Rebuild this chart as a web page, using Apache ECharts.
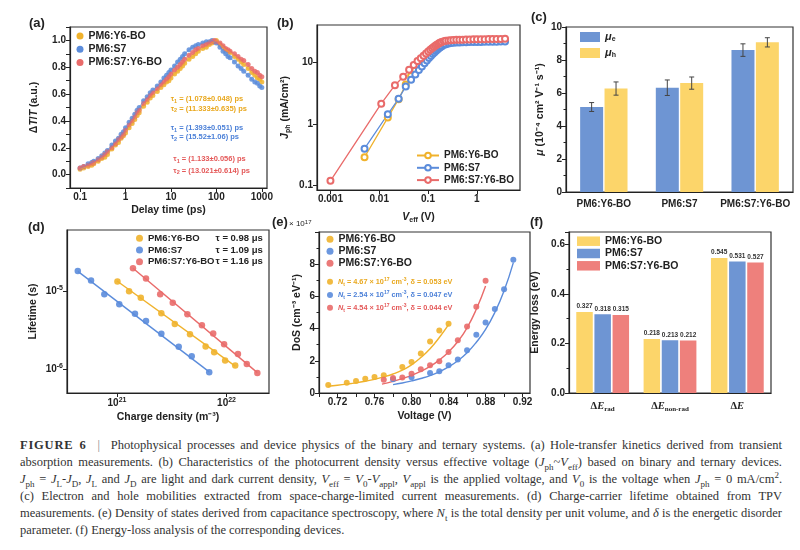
<!DOCTYPE html>
<html>
<head>
<meta charset="utf-8">
<script src="https://cdn.jsdelivr.net/npm/echarts@6/dist/echarts.min.js"></script>
<style>
  body { margin: 0; background: #fff; }
  #cnv { width: 800px; height: 430px; position: absolute; left: 0; top: 0; }
  #cap { position: absolute; left: 20px; top: 437px; width: 762px; font-family: 'Liberation Serif', 'DejaVu Serif', serif; font-size: 12.5px; color: #333; }
  #cap div { height: 17px; line-height: 17px; white-space: nowrap; text-align: justify; text-align-last: justify; }
  #cap div.last { text-align-last: left; }
  #cap sub, #cap sup { font-size: 0.72em; line-height: 0; }
  #cap b { letter-spacing: 0.8px; }
</style>
</head>
<body>
<div id="cnv"></div>
<div id="cap">
  <div><b>FIGURE 6</b>&nbsp;&nbsp;<span style="color:#888">|</span>&nbsp;&nbsp;Photophysical processes and device physics of the binary and ternary systems. (a) Hole-transfer kinetics derived from transient</div>
  <div>absorption measurements. (b) Characteristics of the photocurrent density versus effective voltage (<i>J</i><sub>ph</sub>~<i>V</i><sub>eff</sub>) based on binary and ternary devices.</div>
  <div><i>J</i><sub>ph</sub> = <i>J</i><sub>L</sub>-<i>J</i><sub>D</sub>, <i>J</i><sub>L</sub> and <i>J</i><sub>D</sub> are light and dark current density, <i>V</i><sub>eff</sub> = <i>V</i><sub>0</sub>-<i>V</i><sub>appl</sub>, <i>V</i><sub>appl</sub> is the applied voltage, and <i>V</i><sub>0</sub> is the voltage when <i>J</i><sub>ph</sub> = 0 mA/cm<sup>2</sup>.</div>
  <div>(c) Electron and hole mobilities extracted from space-charge-limited current measurements. (d) Charge-carrier lifetime obtained from TPV</div>
  <div>measurements. (e) Density of states derived from capacitance spectroscopy, where <i>N</i><sub>t</sub> is the total density per unit volume, and <i>δ</i> is the energetic disorder</div>
  <div class="last">parameter. (f) Energy-loss analysis of the corresponding devices.</div>
</div>
<script>
// sample names
var names = ['PM6:Y6-BO', 'PM6:S7', 'PM6:S7:Y6-BO'];

// (a) TA kinetics
var tA = [0.1,0.12,0.15,0.18,0.2,0.25,0.3,0.35,0.4,0.5,0.6,0.7,0.8,0.9,1,1.2,1.4,1.6,1.8,2,2.5,3,3.5,4,5,6,7,8,9,10,12,14,16,18,20,25,30,35,40,50,60,70,80,90,100,120,140,160,180,200,250,300,350,400,500,600,700,800,900,1000];
var aY6 = [0.04,0.05,0.06,0.07,0.08,0.10,0.12,0.13,0.15,0.19,0.22,0.24,0.27,0.29,0.31,0.35,0.38,0.41,0.44,0.46,0.51,0.54,0.57,0.59,0.62,0.65,0.67,0.69,0.70,0.72,0.75,0.77,0.79,0.81,0.83,0.86,0.88,0.90,0.92,0.94,0.95,0.97,0.98,0.99,1.00,0.97,0.95,0.93,0.92,0.91,0.88,0.86,0.84,0.82,0.79,0.76,0.74,0.72,0.71,0.69];
var aS7 = [0.05,0.06,0.08,0.09,0.10,0.12,0.14,0.16,0.18,0.22,0.25,0.27,0.30,0.32,0.35,0.39,0.42,0.45,0.48,0.50,0.55,0.58,0.61,0.63,0.66,0.69,0.72,0.74,0.76,0.78,0.81,0.84,0.86,0.88,0.90,0.93,0.95,0.96,0.97,0.98,0.99,0.99,1.00,0.99,0.98,0.95,0.92,0.90,0.88,0.87,0.84,0.81,0.79,0.77,0.74,0.71,0.69,0.68,0.66,0.65];
var aTern = [0.05,0.06,0.07,0.08,0.09,0.11,0.13,0.15,0.17,0.20,0.23,0.26,0.28,0.30,0.33,0.37,0.40,0.43,0.46,0.48,0.53,0.56,0.59,0.61,0.64,0.67,0.69,0.71,0.73,0.75,0.78,0.80,0.82,0.84,0.86,0.89,0.91,0.93,0.94,0.96,0.97,0.98,0.99,1.00,0.99,0.98,0.96,0.94,0.93,0.92,0.90,0.88,0.86,0.85,0.82,0.79,0.77,0.76,0.74,0.73];

// (b) Jph vs Veff
var bVr = [0.001,0.011,0.021,0.031,0.041,0.051,0.061,0.071,0.081,0.091,0.101,0.111,0.121,0.131,0.141,0.151,0.161,0.171,0.181,0.191,0.211,0.231,0.261,0.291,0.331,0.381,0.441,0.511,0.601,0.711,0.851,1.011,1.211,1.451,1.751,2.111,2.551,3.1,3.8];
var bJr = [0.12,2.15,4.3,5.9,7.7,9.2,10.6,11.8,13.0,14.1,15.2,16.2,17.1,18.0,18.8,19.5,20.2,20.8,21.3,21.7,22.3,22.7,23.0,23.2,23.4,23.5,23.6,23.7,23.8,23.9,24.0,24.0,24.1,24.1,24.2,24.2,24.3,24.3,24.4];
var bV = [0.005,0.015,0.025,0.035,0.045,0.055,0.065,0.075,0.085,0.095,0.105,0.115,0.125,0.135,0.145,0.155,0.165,0.175,0.185,0.195,0.215,0.235,0.265,0.295,0.335,0.385,0.445,0.515,0.605,0.715,0.855,1.015,1.215,1.455,1.755,2.115,2.555,3.1,3.8];
var bJy = [0.29,1.28,2.55,4.4,6.1,7.5,8.8,10.0,11.2,12.3,13.3,14.3,15.2,16.0,16.8,17.5,18.2,18.8,19.3,19.8,20.6,21.1,21.6,21.9,22.1,22.3,22.4,22.5,22.6,22.7,22.8,22.8,22.9,22.9,23.0,23.0,23.1,23.1,23.2];
var bJb = [0.40,1.45,2.6,4.1,5.3,6.4,7.6,8.7,9.8,10.9,11.9,12.9,13.8,14.7,15.5,16.3,17.0,17.6,18.2,18.7,19.5,20.0,20.5,20.8,21.0,21.2,21.3,21.4,21.5,21.6,21.6,21.7,21.7,21.8,21.8,21.9,21.9,22.0,22.0];

// (c) mobilities
var catsC = ['PM6:Y6-BO', 'PM6:S7', 'PM6:S7:Y6-BO'];
var muE = [5.15, 6.32, 8.6];
var muEErr = [0.27, 0.47, 0.38];
var muH = [6.27, 6.6, 9.07];
var muHErr = [0.4, 0.37, 0.28];

// (d) TPV lifetime
var dNy = [1.01e21,1.29e21,1.65e21,2.54e21,3.37e21,4.64e21,6.44e21,7.71e21,9.7e21,1.2e22];
var dTy = [1.32e-5,9.9e-6,8.2e-6,5.19e-6,3.79e-6,2.8e-6,1.96e-6,1.65e-6,1.3e-6,1.12e-6];
var dNb = [4.39e20,5.8e20,7.67e20,1.05e21,1.46e21,1.84e21,2.54e21,3.66e21,4.81e21,6.95e21];
var dTb = [1.8e-5,1.36e-5,9.08e-6,6.76e-6,5.13e-6,4.14e-6,2.85e-6,1.94e-6,1.47e-6,9.2e-7];
var dNr = [1.4e21,1.84e21,2.48e21,3.23e21,4.39e21,5.96e21,7.55e21,9.5e21,1.27e22,1.53e22,1.91e22];
var dTr = [1.95e-5,1.44e-5,9.08e-6,7.1e-6,5.04e-6,3.65e-6,2.88e-6,2.09e-6,1.57e-6,1.17e-6,9.0e-7];
var dFitNy = [1.0e21, 1.2e22], dFitTy = [1.34e-5, 1.1e-6];
var dFitNb = [4.4e20, 6.95e21], dFitTb = [1.78e-5, 9.3e-7];
var dFitNr = [1.4e21, 1.91e22], dFitTr = [1.95e-5, 9.1e-7];
var tauD = ['τ = 0.98 μs', 'τ = 1.09 μs', 'τ = 1.16 μs'];

// (e) density of states
var eVy = [0.71,0.73,0.74,0.75,0.76,0.77,0.79,0.80,0.81,0.82,0.83,0.84];
var eDy = [0.5,0.63,0.75,0.88,1.0,1.1,1.62,1.93,2.45,3.2,3.88,4.3];
var eVb = [0.78,0.80,0.82,0.83,0.84,0.85,0.86,0.87,0.88,0.89,0.90,0.91];
var eDb = [0.86,0.98,1.25,1.35,1.72,2.08,2.65,3.62,4.38,5.22,6.45,8.27];
var eVr = [0.77,0.78,0.79,0.80,0.81,0.82,0.83,0.84,0.85,0.86,0.87,0.88];
var eDr = [0.82,0.93,0.97,1.2,1.47,1.73,1.97,2.55,3.27,4.13,5.35,6.97];
var eFVy = [0.71,0.72,0.73,0.74,0.75,0.76,0.77,0.78,0.79,0.80,0.81,0.82,0.83,0.84];
var eFy = [0.42,0.48,0.55,0.63,0.73,0.85,1.0,1.18,1.42,1.75,2.2,2.75,3.45,4.25];
var eFVb = [0.78,0.79,0.80,0.81,0.82,0.83,0.84,0.85,0.86,0.87,0.88,0.89,0.90,0.91];
var eFb = [0.52,0.62,0.75,0.9,1.08,1.32,1.62,2.0,2.5,3.15,3.95,5.0,6.35,8.1];
var eFVr = [0.768,0.78,0.79,0.80,0.81,0.82,0.83,0.84,0.85,0.86,0.87,0.88];
var eFr = [0.55,0.72,0.9,1.1,1.35,1.65,2.05,2.55,3.2,4.05,5.2,6.65];
var eNt = ['4.67', '2.54', '4.54'];
var eDelta = ['0.053', '0.047', '0.044'];

// (f) energy loss
var catsF = ['ΔE_rad', 'ΔE_non-rad', 'ΔE'];
var fY6 = [0.327, 0.218, 0.545];
var fS7 = [0.318, 0.213, 0.531];
var fTern = [0.315, 0.212, 0.527];

var F = 'Liberation Sans, Arial, sans-serif';
var INK = '#222';
var CY = '#F0B22C', CB = '#5B8CDB', CR = '#E96B6A';
var BY = '#FCD56A', BB = '#6E95D3', BR = '#EE807C';
var TY = '#E9A81E', TB = '#4C80D8', TR = '#E45858';

function pow10(v) {
    return '{b|10}{u|' + Math.round(Math.log10(v)) + '}';
}
var powRich = {
    b: { fontSize: 10, fontWeight: 'bold', fontFamily: F, color: INK, lineHeight: 13 },
    u: { fontSize: 7, fontWeight: 'bold', fontFamily: F, color: INK, verticalAlign: 'top', lineHeight: 8 }
};
function plain(v) { return String(+(+v).toPrecision(4)); }
function zip(xs, ys) { return xs.map(function (x, i) { return [x, ys[i]]; }); }

var subRich = {
    i: { fontStyle: 'italic', fontWeight: 'bold', fontSize: 10.5, fontFamily: F, lineHeight: 14 },
    n: { fontWeight: 'bold', fontSize: 10.5, fontFamily: F, lineHeight: 14 },
    s: { fontWeight: 'bold', fontSize: 7, fontFamily: F, verticalAlign: 'bottom', lineHeight: 9 }
};

function axis(g, extra) {
    var base = {
        gridIndex: g,
        axisLine: { show: true, onZero: false, lineStyle: { color: INK, width: 1.2 } },
        axisTick: { show: true, length: 4, lineStyle: { color: INK, width: 1 } },
        axisLabel: { color: INK, fontSize: 10, fontWeight: 'bold', fontFamily: F, margin: 4 },
        splitLine: { show: false },
        nameLocation: 'middle',
        nameTextStyle: { color: INK, fontSize: 10.5, fontWeight: 'bold', fontFamily: F, rich: subRich }
    };
    for (var k in extra) {
        if (k === 'axisLabel' || k === 'axisTick') base[k] = Object.assign({}, base[k], extra[k]);
        else base[k] = extra[k];
    }
    return base;
}

var grids = [
    { left: 70, top: 27, width: 197, height: 161 },
    { left: 317, top: 25, width: 203, height: 165 },
    { left: 566, top: 27, width: 227, height: 165 },
    { left: 67, top: 230, width: 202, height: 163 },
    { left: 319, top: 232, width: 211, height: 161 },
    { left: 569, top: 232, width: 202, height: 161 }
].map(function (g) { return Object.assign({ show: true, borderColor: '#333', borderWidth: 1.2, backgroundColor: 'transparent' }, g); });

var xAxes = [
    axis(0, { type: 'log', min: 0.06, max: 1300, name: 'Delay time (ps)', nameGap: 17,
        axisLabel: { showMinLabel: false, showMaxLabel: false, formatter: plain } }),
    axis(1, { type: 'log', min: 0.00053, max: 7.7, name: '{i|V}{s|eff}{n| (V)}', nameGap: 20,
        axisLabel: { showMinLabel: false, showMaxLabel: false, formatter: plain } }),
    axis(2, { type: 'category', data: catsC, axisTick: { show: false },
        axisLabel: { margin: 7, fontSize: 10, interval: 0 } }),
    axis(3, { type: 'log', min: 3.5e20, max: 2.44e22, name: 'Charge density (m⁻³)', nameGap: 19,
        axisLabel: { showMinLabel: false, showMaxLabel: false, formatter: pow10, rich: powRich } }),
    axis(4, { type: 'value', min: 0.70, max: 0.928, interval: 0.02, name: 'Voltage (V)', nameGap: 18,
        axisLabel: { showMaxLabel: false, formatter: function (v) { return Math.round(v * 100) % 4 === 0 ? v.toFixed(2) : ''; } } }),
    axis(5, { type: 'category', data: catsF, axisTick: { show: false },
        axisLabel: { margin: 6, interval: 0, formatter: function (v) {
            var p = v.split('_');
            return '{d|Δ}{e|E}' + (p[1] ? '{s|' + p[1] + '}' : '');
        }, rich: {
            d: { fontSize: 10.5, fontFamily: 'Liberation Serif, serif', lineHeight: 14, color: INK },
            e: { fontSize: 10.5, fontStyle: 'italic', fontFamily: 'Liberation Serif, serif', lineHeight: 14, color: INK },
            s: { fontSize: 7, fontFamily: 'Liberation Serif, serif', verticalAlign: 'bottom', lineHeight: 9, color: INK }
        } } })
];

var yAxes = [
    axis(0, { type: 'value', min: -0.1, max: 1.1, interval: 0.1, name: '{n|Δ}{i|T}{n|/}{i|T}{n| (a.u.)}', nameGap: 29,
        axisLabel: { formatter: function (v) { var k = Math.round(v * 10); return (k >= 0 && k <= 10 && k % 2 === 0) ? v.toFixed(1) : ''; } } }),
    axis(1, { type: 'log', min: 0.085, max: 41, name: '{i|J}{s|ph}{n| (mA/cm²)}', nameGap: 25,
        axisLabel: { showMinLabel: false, showMaxLabel: false, formatter: plain } }),
    axis(2, { type: 'value', min: 0, max: 10, interval: 2, name: '{i|μ}{n| (10⁻⁴ cm² V⁻¹ s⁻¹)}', nameGap: 19,
        minorTick: { show: true, splitNumber: 2, length: 2.5, lineStyle: { color: INK } } }),
    axis(3, { type: 'log', min: 5e-7, max: 6e-5, name: 'Lifetime (s)', nameGap: 28,
        axisLabel: { showMinLabel: false, showMaxLabel: false, formatter: pow10, rich: powRich } }),
    axis(4, { type: 'value', min: 0, max: 10, interval: 2, name: 'DoS (cm⁻³ eV⁻¹)', nameGap: 16,
        minorTick: { show: true, splitNumber: 2, length: 2.5, lineStyle: { color: INK } },
        axisLabel: { formatter: function (v) { return v >= 10 ? '' : String(v); } } }),
    axis(5, { type: 'value', min: 0, max: 0.65, interval: 0.2, name: 'Energy loss (eV)', nameGap: 28,
        minorTick: { show: true, splitNumber: 2, length: 2.5, lineStyle: { color: INK } },
        axisLabel: { showMaxLabel: false, formatter: function (v) { return v > 0.61 ? '' : v.toFixed(1); } } })
];

var dotColors = [CY, CB, CR];
var series = [];

// (a)
[aY6, aS7, aTern].forEach(function (ys, i) {
    series.push({ name: '#a ' + names[i], type: 'line', xAxisIndex: 0, yAxisIndex: 0, data: zip(tA, ys),
        smooth: 0.4, showSymbol: false, silent: true, lineStyle: { color: dotColors[i], width: 1.2, opacity: 0.55 }, itemStyle: { color: dotColors[i] }, z: 3 });
});
[aY6, aS7, aTern].forEach(function (ys, i) {
    series.push({ name: 'a' + names[i], type: 'scatter', xAxisIndex: 0, yAxisIndex: 0, data: zip(tA, ys),
        symbolSize: 5, itemStyle: { color: dotColors[i], opacity: 0.85 }, z: 2 });
});

// (b)
[[bV, bJy], [bV, bJb], [bVr, bJr]].forEach(function (d, i) {
    series.push({ name: '#b ' + names[i], type: 'line', xAxisIndex: 1, yAxisIndex: 1, data: zip(d[0], d[1]),
        symbol: 'emptyCircle', symbolSize: 6, lineStyle: { color: dotColors[i], width: 1.3 },
        itemStyle: { color: dotColors[i], borderWidth: 1 } });
});

// (c)
series.push({ name: '#c μe', type: 'bar', xAxisIndex: 2, yAxisIndex: 2, data: muE, barWidth: 23, barGap: '6%', itemStyle: { color: BB } });
series.push({ name: '#c μh', type: 'bar', xAxisIndex: 2, yAxisIndex: 2, data: muH, barWidth: 23, barGap: '6%', itemStyle: { color: BY } });
function errItem(off) {
    return function (params, api) {
        var ci = api.value(0), v = api.value(1), e = api.value(2);
        var p = api.coord([ci, v]);
        var t = api.coord([ci, v + e])[1], b = api.coord([ci, v - e])[1];
        var x = p[0] + off;
        var st = { stroke: '#444', lineWidth: 1 };
        return { type: 'group', children: [
            { type: 'line', shape: { x1: x, y1: t, x2: x, y2: b }, style: st },
            { type: 'line', shape: { x1: x - 2.5, y1: t, x2: x + 2.5, y2: t }, style: st },
            { type: 'line', shape: { x1: x - 2.5, y1: b, x2: x + 2.5, y2: b }, style: st }
        ] };
    };
}
series.push({ type: 'custom', xAxisIndex: 2, yAxisIndex: 2, renderItem: errItem(-12.2), z: 10,
    data: muE.map(function (v, i) { return [i, v, muEErr[i]]; }) });
series.push({ type: 'custom', xAxisIndex: 2, yAxisIndex: 2, renderItem: errItem(12.2), z: 10,
    data: muH.map(function (v, i) { return [i, v, muHErr[i]]; }) });

// (d)
[[dFitNy, dFitTy], [dFitNb, dFitTb], [dFitNr, dFitTr]].forEach(function (d, i) {
    series.push({ name: 'dfit' + i, type: 'line', xAxisIndex: 3, yAxisIndex: 3, data: zip(d[0], d[1]),
        showSymbol: false, silent: true, lineStyle: { color: dotColors[i], width: 1.4 }, z: 2 });
});
[[dNy, dTy], [dNb, dTb], [dNr, dTr]].forEach(function (d, i) {
    series.push({ name: '#d ' + names[i], type: 'scatter', xAxisIndex: 3, yAxisIndex: 3, data: zip(d[0], d[1]),
        symbolSize: 6.5, itemStyle: { color: dotColors[i], opacity: 0.9 }, z: 3 });
});

// (e)
[[eFVy, eFy], [eFVb, eFb], [eFVr, eFr]].forEach(function (d, i) {
    series.push({ name: 'efit' + i, type: 'line', xAxisIndex: 4, yAxisIndex: 4, data: zip(d[0], d[1]),
        smooth: true, showSymbol: false, silent: true, lineStyle: { color: dotColors[i], width: 1.4 }, z: 2 });
});
[[eVy, eDy], [eVb, eDb], [eVr, eDr]].forEach(function (d, i) {
    series.push({ name: '#e ' + names[i], type: 'scatter', xAxisIndex: 4, yAxisIndex: 4, data: zip(d[0], d[1]),
        symbolSize: 6, itemStyle: { color: dotColors[i], opacity: 0.9 }, z: 3 });
});

// (f)
[fY6, fS7, fTern].forEach(function (vals, i) {
    series.push({ name: '#f ' + names[i], type: 'bar', xAxisIndex: 5, yAxisIndex: 5, data: vals,
        barWidth: 16.5, barGap: '10%', itemStyle: { color: [BY, BB, BR][i] },
        label: { show: true, position: 'top', distance: 2, fontSize: 6.5, fontWeight: 'bold', fontFamily: F, color: '#333',
            formatter: function (p) { return p.value.toFixed(3); } } });
});

function legend(tag, pos, extra) {
    return Object.assign({
        orient: 'vertical', selectedMode: false, padding: 0,
        data: names.map(function (n) { return '#' + tag + ' ' + n; }),
        formatter: function (n) { return n.slice(3); },
        textStyle: { color: INK, fontSize: 10.5, fontWeight: 'bold', fontFamily: F, lineHeight: 12 }
    }, pos, extra);
}

var legends = [
    legend('a', { left: 76.5, top: 30 }, { icon: 'circle', itemWidth: 7, itemHeight: 7, itemGap: 1.3 }),
    legend('b', { left: 416, top: 149.5 }, { itemWidth: 22, itemHeight: 7, itemGap: 0.3,
        textStyle: { color: INK, fontSize: 10, fontWeight: 'bold', fontFamily: F, lineHeight: 12 } }),
    { orient: 'vertical', selectedMode: false, padding: 0, left: 580, top: 31, icon: 'rect', itemWidth: 20, itemHeight: 10, itemGap: 4,
        data: ['#c μe', '#c μh'],
        formatter: function (n) { return '{i|μ}{s|' + n.slice(4) + '}'; },
        textStyle: { color: INK, fontSize: 11, fontFamily: F, lineHeight: 12, rich: {
            i: { fontStyle: 'italic', fontWeight: 'bold', fontSize: 11, fontFamily: F, lineHeight: 12 },
            s: { fontWeight: 'bold', fontSize: 7, fontFamily: F, verticalAlign: 'bottom', lineHeight: 8 } } } },
    legend('d', { left: 136, top: 232.5 }, { icon: 'circle', itemWidth: 7, itemHeight: 7, itemGap: 0,
        formatter: function (n) { var k = names.indexOf(n.slice(3)); return '{n|' + n.slice(3) + '}{t|' + tauD[k] + '}'; },
        textStyle: { color: INK, fontSize: 9.5, fontWeight: 'bold', fontFamily: F, lineHeight: 11.7, rich: {
            n: { width: 67.5, fontSize: 9.5, fontWeight: 'bold', fontFamily: F, lineHeight: 11.7 },
            t: { fontSize: 9.5, fontWeight: 'bold', fontFamily: F, lineHeight: 11.7 } } } }),
    legend('e', { left: 326.5, top: 233.3 }, { icon: 'circle', itemWidth: 7, itemHeight: 7, itemGap: 0 }),
    legend('f', { left: 577, top: 235.2 }, { icon: 'rect', itemWidth: 23, itemHeight: 9.5, itemGap: 0.3,
        textStyle: { color: INK, fontSize: 10.5, fontWeight: 'bold', fontFamily: F, lineHeight: 12 } })
];

function txt(x, y, text, font, fill, rich) {
    return { type: 'text', x: x, y: y, silent: true, style: { text: text, font: font, fill: fill || INK, verticalAlign: 'middle', rich: rich } };
}
var graphics = [
    txt(29, 23, '(a)', 'bold 13px ' + F), txt(277, 23, '(b)', 'bold 13px ' + F), txt(531, 17, '(c)', 'bold 13px ' + F),
    txt(28, 227, '(d)', 'bold 13px ' + F), txt(272, 222, '(e)', 'bold 13px ' + F), txt(530, 222, '(f)', 'bold 13px ' + F),
    txt(289, 224, '{n|× 10}{u|17}', '8px ' + F, INK, { n: { fontSize: 8, fontFamily: F, fill: INK, lineHeight: 10 }, u: { fontSize: 6, fontFamily: F, fill: INK, verticalAlign: 'top', lineHeight: 7 } })
];
var aTau = [['(1.078±0.048)', '(11.333±0.635)'], ['(1.393±0.051)', '(15.52±1.06)'], ['(1.133±0.056)', '(13.021±0.614)']];
var aTauY = [[99.3, 108.8], [128.3, 137.3], [159.3, 170.5]];
var aTauX = [170.7, 170.7, 173.3];
[TY, TB, TR].forEach(function (c, i) {
    var base = { fontSize: 7.5, fontWeight: 'bold', fontFamily: F, fill: c, lineHeight: 10 };
    var rich = { n: base, s: Object.assign({}, base, { fontSize: 5.5, verticalAlign: 'bottom', lineHeight: 7 }) };
    graphics.push(txt(aTauX[i], aTauY[i][0], '{n|τ}{s|1}{n| = ' + aTau[i][0] + ' ps}', 'bold 7.5px ' + F, c, rich));
    graphics.push(txt(aTauX[i], aTauY[i][1], '{n|τ}{s|2}{n| = ' + aTau[i][1] + ' ps}', 'bold 7.5px ' + F, c, rich));
});
var eAnnY = [281.7, 295, 307.7];
[TY, TB, TR].forEach(function (c, i) {
    graphics.push({ type: 'circle', silent: true, shape: { cx: 330, cy: eAnnY[i], r: 3 }, style: { fill: dotColors[i], opacity: 0.9 } });
    var base = { fontSize: 7.3, fontWeight: 'bold', fontFamily: F, fill: c, lineHeight: 10 };
    graphics.push(txt(338, eAnnY[i],
        '{i|N}{s|t}{n| = ' + eNt[i] + ' × 10}{u|17}{n| cm}{u|-3}{n|, δ = ' + eDelta[i] + ' eV}', 'bold 7.3px ' + F, c, {
            n: base,
            i: Object.assign({}, base, { fontStyle: 'italic' }),
            s: Object.assign({}, base, { fontSize: 5, verticalAlign: 'bottom', lineHeight: 6 }),
            u: Object.assign({}, base, { fontSize: 5, verticalAlign: 'top', lineHeight: 6 })
        }));
});

var main = document.getElementById('cnv');
var myechart = echarts.init(main, null, { renderer: 'canvas' });
var option = {
    animation: false,
    backgroundColor: '#fff',
    grid: grids,
    xAxis: xAxes,
    yAxis: yAxes,
    legend: legends,
    series: series,
    graphic: graphics
};
myechart.setOption(option);
</script>
</body>
</html>
